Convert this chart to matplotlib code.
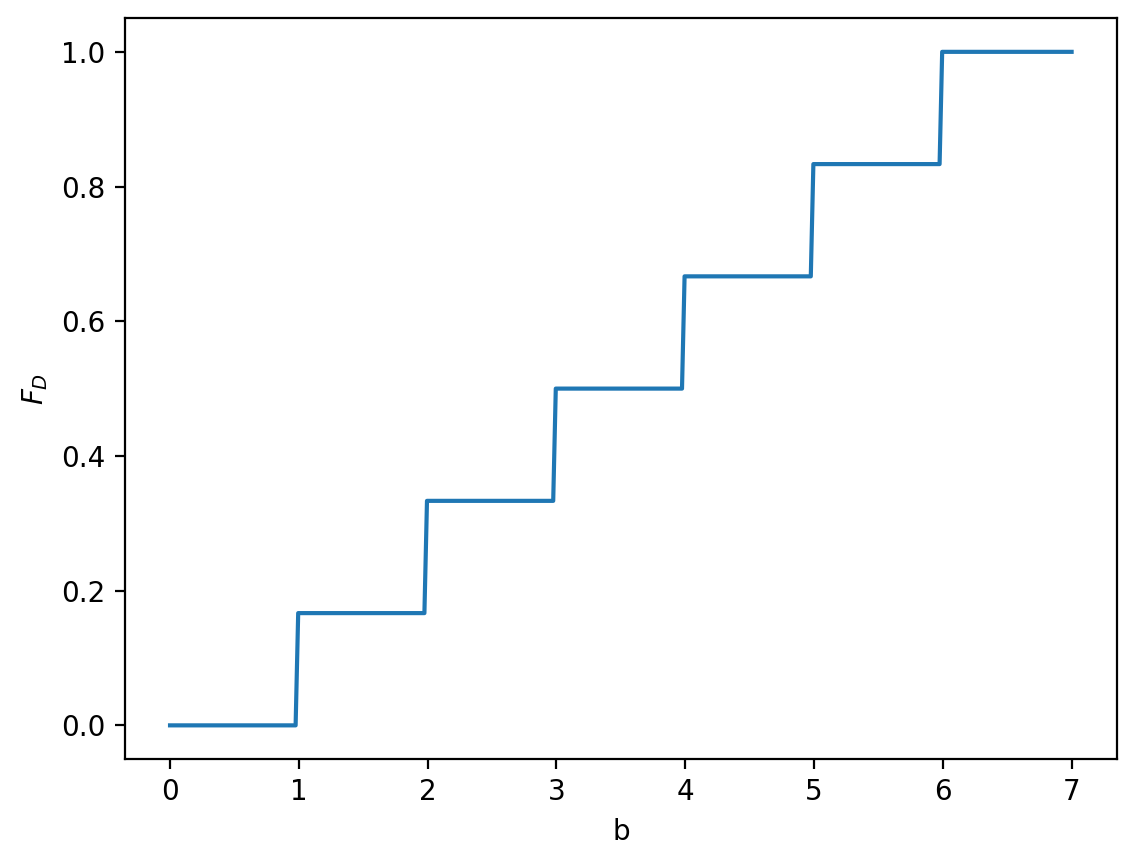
import matplotlib
matplotlib.use("Agg")
import matplotlib.pyplot as plt

# step CDF of a fair die, sampled points (last before / first after each jump)
x_pts = [0.0, 0.975, 0.995, 1.975, 1.995, 2.975, 2.995, 3.975, 3.995,
         4.975, 4.995, 5.975, 5.995, 7.0]
y_pts = [0.0, 0.0, 1/6, 1/6, 2/6, 2/6, 3/6, 3/6, 4/6, 4/6, 5/6, 5/6, 1.0, 1.0]

fig = plt.figure(figsize=(5.68, 4.325), dpi=200)
ax = fig.add_axes([0.110, 0.1225, 0.873, 0.8565])
ax.plot(x_pts, y_pts, color="#1f77b4", linewidth=1.5)
ax.set_xlabel("b")
ax.set_ylabel("$F_D$")
fig.savefig("out.png", dpi=200)
